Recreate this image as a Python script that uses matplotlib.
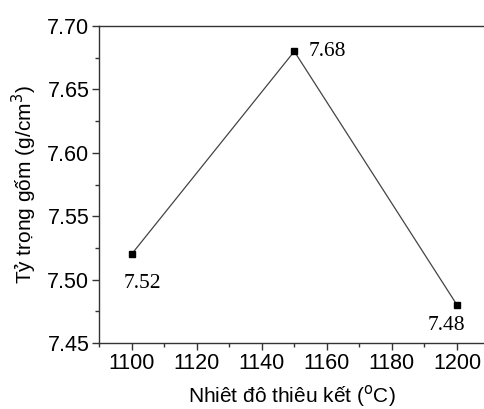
import matplotlib.pyplot as plt
from matplotlib.ticker import MultipleLocator

temps = [1100, 1150, 1200]
density = [7.52, 7.68, 7.48]
labels = ['7.52', '7.68', '7.48']
# label offsets in pixels (dx, dy)
offsets = [(11, -29), (14, 0), (-11, -21)]

fig = plt.figure(figsize=(4.85, 4.09), dpi=100)
ax = fig.add_axes([99/485, 66/409, 386/485, 317/409])

ax.plot(temps, density, color='#444444', lw=0.9, marker='s', ms=5,
        mfc='black', mec='black')

for x, y, s, (dx, dy) in zip(temps, density, labels, offsets):
    ax.annotate(s, (x, y), xytext=(dx, dy), textcoords='offset pixels',
                ha='left' if dx > 0 and dy == 0 else 'center', va='center',
                family='Liberation Serif', fontsize=15.5)

ax.set_xlim(1090, 1208.6)
ax.set_ylim(7.45, 7.70)
ax.xaxis.set_major_locator(MultipleLocator(20))
ax.xaxis.set_minor_locator(MultipleLocator(10))
ax.yaxis.set_major_locator(MultipleLocator(0.05))
ax.yaxis.set_minor_locator(MultipleLocator(0.025))
ax.yaxis.set_major_formatter(plt.FormatStrFormatter('%.2f'))

ax.spines['right'].set_visible(False)
for sp in ax.spines.values():
    sp.set_color('#333333')
    sp.set_linewidth(1.0)
ax.tick_params(which='major', direction='out', length=5, width=1, color='#333333',
               labelsize=15.5, pad=2)
ax.tick_params(which='minor', direction='out', length=3, width=1, color='#333333')
for t in ax.get_xticklabels() + ax.get_yticklabels():
    t.set_family('Liberation Sans')

ax.set_xlabel('Nhiêt đô thiêu kết ($^{\\mathrm{o}}$C)', family='Liberation Sans',
              fontsize=15, labelpad=7)
ax.set_ylabel('Tỷ trọng gốm (g/cm$^{3}$)', family='Liberation Sans',
              fontsize=15, labelpad=6)

fig.savefig('out.png', dpi=100)
